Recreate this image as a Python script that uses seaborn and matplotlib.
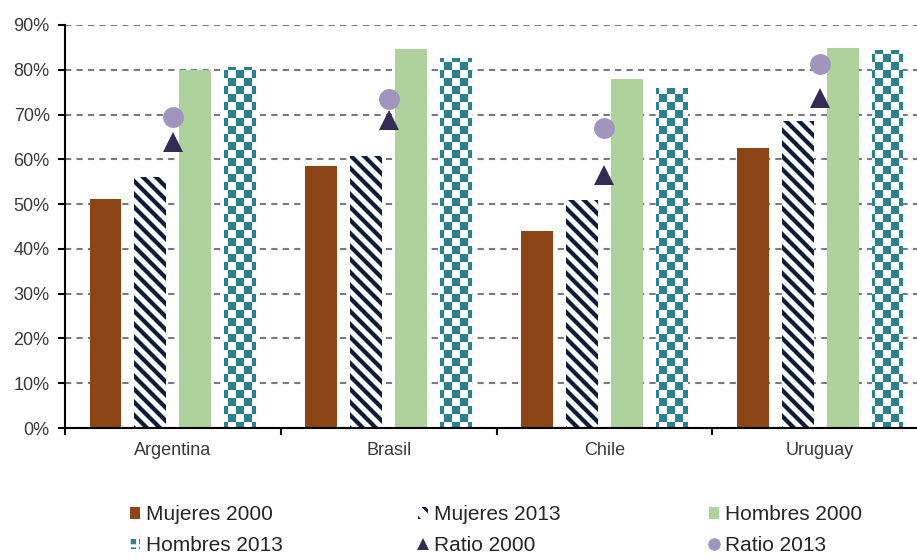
import numpy as np
import pandas as pd
import matplotlib
matplotlib.use("Agg")
import matplotlib.pyplot as plt
import seaborn as sns
from matplotlib.patches import Patch
from matplotlib.lines import Line2D
from matplotlib.collections import PolyCollection

# ---------------- data ----------------
paises = ["Argentina", "Brasil", "Chile", "Uruguay"]
mujeres_2000 = [51.1, 58.5, 44.0, 62.5]
mujeres_2013 = [56.0, 60.7, 50.9, 68.6]
hombres_2000 = [80.0, 84.6, 77.9, 84.8]
hombres_2013 = [80.6, 82.7, 75.9, 84.4]
ratio_2000 = [63.9, 68.8, 56.5, 73.6]
ratio_2013 = [69.5, 73.4, 67.1, 81.3]
series_barras = ["Mujeres 2000", "Mujeres 2013", "Hombres 2000", "Hombres 2013"]
y_ticks = [0, 10, 20, 30, 40, 50, 60, 70, 80, 90]

# ---------------- style ----------------
BROWN = "#8B4516"
NAVY = "#0B1D3A"
GREEN = "#AED29B"
TEAL = "#2A8291"
PURPLE_D = "#352B55"
PURPLE_L = "#A194BE"
TXT = "#3A3A3A"

sns.set_theme(style="ticks")
plt.rcParams["font.family"] = ["Liberation Sans", "DejaVu Sans"]
plt.rcParams["hatch.linewidth"] = 2.2
plt.rcParams["hatch.color"] = NAVY

df = pd.DataFrame({
    "País": paises,
    "Mujeres 2000": mujeres_2000,
    "Mujeres 2013": mujeres_2013,
    "Hombres 2000": hombres_2000,
    "Hombres 2013": hombres_2013,
})
long = df.melt(id_vars="País", value_vars=series_barras, var_name="Serie", value_name="Valor")

fig = plt.figure(figsize=(9.17, 5.59), dpi=100)
ax = fig.add_axes([0.0709, 0.2343, 1.012 - 0.0709, 0.9553 - 0.2343])

sns.barplot(data=long, x="País", y="Valor", hue="Serie", order=paises,
            hue_order=series_barras, palette=[BROWN, "white", GREEN, "white"],
            saturation=1, width=0.833, gap=0.29, errorbar=None, legend=False, ax=ax)

conts = list(ax.containers)
for c in conts:
    for r in c:
        r.set_linewidth(0)

ax.set_xlim(-0.5, 3.5)
ax.set_ylim(0, 90)


def fill_texture(rect, kind):
    """Vector texture (stripes / checkerboard) clipped to a seaborn bar."""
    x0, w, h = rect.get_x(), rect.get_width(), rect.get_height()
    disp = ax.transData.transform([(x0, 0.0), (x0 + w, h)])
    px0, px1 = np.floor(disp[0, 0]) - 1, np.ceil(disp[1, 0]) + 1
    py0, py1 = np.floor(disp[0, 1]) - 1, np.ceil(disp[1, 1]) + 1
    inv = ax.transData.inverted()
    polys = []
    if kind == "stripes":
        period, thick = 13.0, 6.0
        c = px0 + py0 - period
        while c < px1 + py1 + period:
            quad = [(px0, c - px0), (px1, c - px1), (px1, c + thick - px1), (px0, c + thick - px0)]
            polys.append(inv.transform(quad))
            c += period
        col = PolyCollection(polys, facecolors=NAVY, edgecolors="none", zorder=1.5)
    else:
        cell = 8.0
        off = 3.0
        nx = int((px1 - px0) // cell) + 2
        ny = int((py1 - py0) // cell) + 2
        for i in range(ny):
            for j in range(nx):
                if (i + j) % 2 == 0:
                    xa = px0 - off + j * cell
                    ya = py0 + i * cell
                    quad = [(xa, ya), (xa + cell, ya), (xa + cell, ya + cell), (xa, ya + cell)]
                    polys.append(inv.transform(quad))
        col = PolyCollection(polys, facecolors=TEAL, edgecolors="none", zorder=1.5,
                             antialiased=False)
    ax.add_collection(col, autolim=False)
    col.set_clip_path(rect)


for r in conts[1]:
    fill_texture(r, "stripes")
for r in conts[3]:
    fill_texture(r, "checker")

sns.pointplot(x=paises, y=ratio_2000, order=paises, color=PURPLE_D, marker="^",
              markersize=15, markeredgewidth=0, linestyle="none", errorbar=None, ax=ax)
sns.pointplot(x=paises, y=ratio_2013, order=paises, color=PURPLE_L, marker="o",
              markersize=15, markeredgewidth=0, linestyle="none", errorbar=None, ax=ax)
for ln in ax.lines:
    ln.set_zorder(5)

ax.set_xlim(-0.5, 3.5)
ax.set_ylim(0, 90)
ax.set_yticks(y_ticks)
ax.set_yticklabels([f"{v}%" for v in y_ticks])
ax.set_xlabel("")
ax.set_ylabel("")

ax.set_axisbelow(True)
ax.yaxis.grid(True, color="#7A7A7A", linestyle=(0, (3, 2.5)), linewidth=1.5)
ax.xaxis.grid(False)

for s in ["top", "right"]:
    ax.spines[s].set_visible(False)
for s in ["left", "bottom"]:
    ax.spines[s].set_color("black")
    ax.spines[s].set_linewidth(1.5)

ax.set_xticks([-0.5, 0.5, 1.5, 2.5, 3.5], minor=True)
ax.tick_params(axis="x", which="major", length=0, labelsize=13, labelcolor=TXT, pad=10)
ax.tick_params(axis="x", which="minor", length=5, width=1.5, color="black", direction="out", bottom=True)
ax.tick_params(axis="y", which="major", length=5, width=1.5, color="black", direction="out",
               labelsize=13, labelcolor=TXT, pad=6, left=True)

# ---------------- legend ----------------
h_m00 = Patch(facecolor=BROWN, linewidth=0)
h_m13 = Patch(facecolor="white", edgecolor=NAVY, hatch="\\\\", linewidth=0)
h_h00 = Patch(facecolor=GREEN, linewidth=0)
h_h13 = Patch(facecolor=TEAL, edgecolor="white", hatch="++", linewidth=0)
h_r00 = Line2D([], [], marker="^", color=PURPLE_D, linestyle="none", markersize=9, markeredgewidth=0)
h_r13 = Line2D([], [], marker="o", color=PURPLE_L, linestyle="none", markersize=9, markeredgewidth=0)

cols = [
    ([h_m00, h_h13], ["Mujeres 2000", "Hombres 2013"], 0.1418),
    ([h_m13, h_r00], ["Mujeres 2013", "Ratio 2000"], 0.4558),
    ([h_h00, h_r13], ["Hombres 2000", "Ratio 2013"], 0.7732),
]
for hs, ls, xpos in cols:
    leg = fig.legend(hs, ls, loc="center left", bbox_to_anchor=(xpos, 0.052),
                     frameon=False, fontsize=15, handlelength=0.5, handleheight=0.5,
                     handletextpad=0.25, labelspacing=0.55, borderpad=0, borderaxespad=0)
    for t in leg.get_texts():
        t.set_color("#262626")

fig.savefig("out.png", dpi=100)
